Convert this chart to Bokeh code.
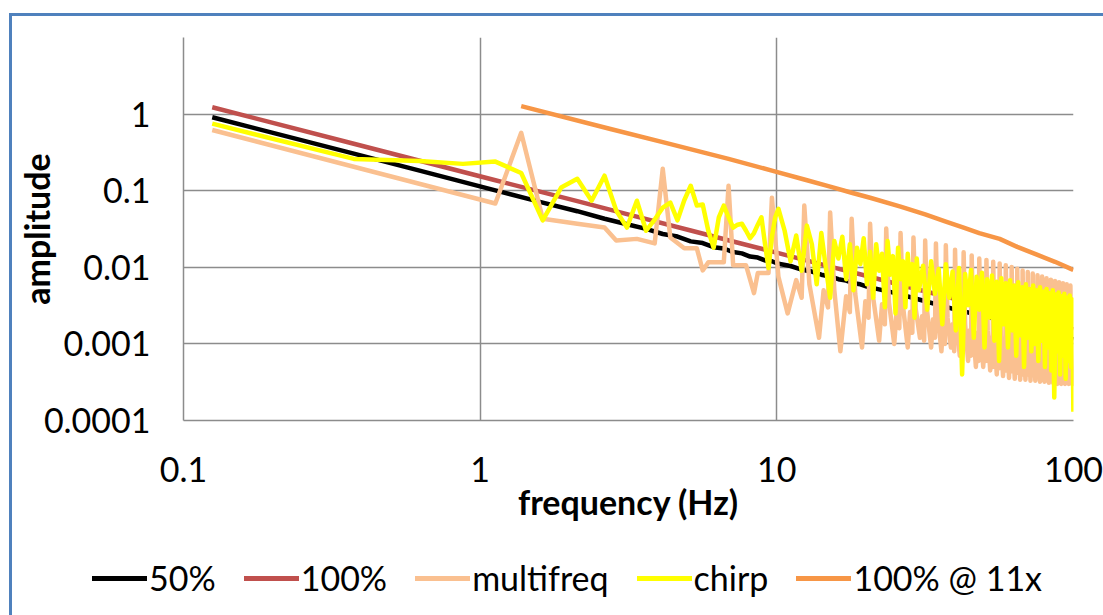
from bokeh.plotting import figure
from bokeh.layouts import column
from bokeh.models import Range1d, FixedTicker, CustomJSTickFormatter, Div
from bokeh.embed import file_html
from bokeh.resources import INLINE

# ---------------- data ----------------
x_ticks = [0.1, 1, 10, 100]
y_ticks = [0.0001, 0.001, 0.01, 0.1, 1]

half_f = [0.125, 0.375, 0.625, 1.125, 1.625, 2.125, 2.625, 3.125, 3.625, 4.125,
          4.625, 5.125, 5.625, 6.125, 6.625, 7.125, 7.625, 8.125, 8.625, 9.125,
          9.625, 10.125, 11.125, 12.125, 13.125, 14.125, 15.125, 16.125, 17.125,
          18.125, 19.125, 20.125, 25.125, 30.125, 40.125, 50.125, 60.125, 70.125,
          80.125, 90.125, 99.875]
half_v = [0.91, 0.305, 0.183, 0.101, 0.070, 0.054, 0.043, 0.0365, 0.0318, 0.0272,
          0.0252, 0.0218, 0.0207, 0.0183, 0.0176, 0.0158, 0.0152, 0.0138, 0.0134, 0.0123,
          0.0120, 0.0111, 0.0104, 0.0093, 0.0088, 0.0080, 0.0076, 0.0070, 0.0067,
          0.0062, 0.0060, 0.0056, 0.0046, 0.0038, 0.0028, 0.0023, 0.0019, 0.0016,
          0.0014, 0.00127, 0.00114]

full_f = [0.125, 0.375, 1.125, 2.125, 3.125, 5.125, 7.125, 10.125, 15.125, 20.125,
          30.125, 50.125, 70.125, 99.875]
full_v = [1.23, 0.41, 0.137, 0.073, 0.0495, 0.0302, 0.0217, 0.0153, 0.0102, 0.0077,
          0.0051, 0.0031, 0.0022, 0.00155]

multi_f = [0.125, 1.125, 1.375, 1.625, 2.125, 2.625, 2.875, 3.375, 3.875, 4.125,
           4.375, 4.875, 5.375, 5.625, 5.875, 6.625, 6.875, 7.125, 7.875, 8.375,
           8.625, 9.375, 9.625,
           10.125, 10.875, 11.625, 12.125, 12.375,
           12.875, 13.875, 14.375, 14.875, 15.125,
           15.625, 16.375, 17.125, 17.625, 17.875,
           18.375, 19.375, 19.875, 20.375, 20.625,
           21.125, 22.125, 22.625, 23.125, 23.375,
           23.875, 24.875, 25.375, 25.875, 26.125,
           26.625, 27.625, 28.125, 28.625, 28.875,
           29.375, 30.375, 30.875, 31.375, 31.625,
           32.125, 33.125, 33.625, 34.125, 34.375,
           34.875, 35.875, 36.375, 36.875, 37.125,
           37.625, 38.625, 39.125, 39.625, 39.875,
           40.375, 41.375, 41.875, 42.375, 42.625,
           43.125, 44.125, 44.625, 45.125, 45.375,
           45.875, 46.875, 47.375, 47.875, 48.125,
           48.625, 49.625, 50.125, 50.625, 50.875,
           51.375, 52.375, 52.875, 53.375, 53.625,
           54.125, 55.125, 55.625, 56.125, 56.375,
           56.875, 57.875, 58.375, 58.875, 59.125,
           59.625, 60.625, 61.125, 61.625, 61.875,
           62.375, 63.375, 63.875, 64.375, 64.625,
           65.125, 66.125, 66.625, 67.125, 67.375,
           67.875, 68.875, 69.375, 69.875, 70.125,
           70.625, 71.625, 72.125, 72.625, 72.875,
           73.375, 74.375, 74.875, 75.375, 75.625,
           76.125, 77.125, 77.625, 78.125, 78.375,
           78.875, 79.875, 80.375, 80.875, 81.125,
           81.625, 82.625, 83.125, 83.625, 83.875,
           84.375, 85.375, 85.875, 86.375, 86.625,
           87.125, 88.125, 88.625, 89.125, 89.375,
           89.875, 90.875, 91.375, 91.875, 92.125,
           92.625, 93.625, 94.125, 94.625, 94.875,
           95.375, 96.375, 96.875, 97.375, 97.625,
           98.125, 99.125, 99.875]
multi_v = [0.62, 0.068, 0.57, 0.043, 0.037, 0.033, 0.0224, 0.0235, 0.0205, 0.193,
           0.0245, 0.0177, 0.0177, 0.0091, 0.0116, 0.0116, 0.116, 0.0106, 0.0106, 0.0046,
           0.0084, 0.0084, 0.081,
           0.0075, 0.0025, 0.0068, 0.0040, 0.064,
           0.0060, 0.0012, 0.0050, 0.0030, 0.052,
           0.0050, 0.0008, 0.0042, 0.0026, 0.043,
           0.0045, 0.0009, 0.0036, 0.0022, 0.037,
           0.0040, 0.0011, 0.0033, 0.0018, 0.032,
           0.0035, 0.0010, 0.0029, 0.0016, 0.028,
           0.0031, 0.0009, 0.0026, 0.0014, 0.0245,
           0.0029, 0.0012, 0.0023, 0.0011, 0.0224,
           0.0026, 0.0009, 0.0021, 0.0012, 0.0205,
           0.0024, 0.0008, 0.0019, 0.0010, 0.0194,
           0.0022, 0.0009, 0.0018, 0.0008, 0.017,
           0.0020, 0.0007, 0.0016, 0.0009, 0.0157,
           0.0018, 0.0006, 0.0015, 0.0007, 0.0143,
           0.0017, 0.0005, 0.0014, 0.0006, 0.013,
           0.0016, 0.0005, 0.0013, 0.0006, 0.0125,
           0.0015, 0.00045, 0.0012, 0.0005, 0.0118,
           0.0014, 0.0004, 0.0011, 0.00048, 0.0112,
           0.0013, 0.00038, 0.0010, 0.00045, 0.0106,
           0.0013, 0.00036, 0.00095, 0.00044, 0.0101,
           0.0012, 0.00035, 0.0009, 0.00042, 0.0096,
           0.0011, 0.00034, 0.00088, 0.0004, 0.0091,
           0.0011, 0.00034, 0.00085, 0.0004, 0.0087,
           0.00105, 0.00033, 0.00082, 0.00039, 0.0083,
           0.0010, 0.00033, 0.0008, 0.00038, 0.0079,
           0.00098, 0.00032, 0.00078, 0.00037, 0.0076,
           0.00095, 0.00032, 0.00075, 0.00036, 0.0072,
           0.00092, 0.00031, 0.00072, 0.00035, 0.0069,
           0.0009, 0.00031, 0.0007, 0.00035, 0.0066,
           0.00088, 0.0003, 0.00068, 0.00034, 0.0064,
           0.00086, 0.0003, 0.00066, 0.00034, 0.0062,
           0.00084, 0.0003, 0.00065, 0.00033, 0.006,
           0.00082, 0.0003, 0.00063, 0.00033, 0.0058,
           0.0008, 0.0003, 0.0005]

chirp_f = [0.125, 0.375, 0.625, 0.875, 1.125, 1.375, 1.625, 1.875, 2.125, 2.375,
           2.625, 2.875, 3.125, 3.375, 3.625, 3.875, 4.125, 4.375, 4.625, 4.875,
           5.125, 5.375, 5.625, 5.875, 6.125, 6.375, 6.625, 6.875, 7.125, 7.375,
           7.625, 7.875, 8.125, 8.375, 8.625, 8.875, 9.125, 9.375, 9.625, 9.875,
           10.125, 10.625, 11.125, 11.625, 12.125, 12.625, 13.125, 13.625, 14.125,
           14.625, 15.125, 15.625, 16.125, 16.625, 17.125, 17.625, 18.125, 18.625,
           19.125, 19.625, 20.125, 20.625, 21.125, 21.625, 22.125, 22.625, 23.125,
           23.625, 24.125, 24.625, 25.125, 25.625, 26.125, 26.625, 27.125, 27.625,
           28.125, 28.625, 29.125, 29.625,
           30.125, 31.125, 32.125, 33.125, 34.125, 35.125, 36.125, 37.125, 38.125,
           39.125, 40.125, 41.125, 42.125, 43.125, 44.125, 45.125, 46.125, 47.125,
           48.125, 49.125, 50.125, 51.125, 52.125, 53.125, 54.125, 55.125, 56.125,
           57.125, 58.125, 59.125, 60.125, 61.125, 62.125, 63.125, 64.125, 65.125,
           66.125, 67.125, 68.125, 69.125, 70.125, 71.125, 72.125, 73.125, 74.125,
           75.125, 76.125, 77.125, 78.125, 79.125, 80.125, 81.125, 82.125, 83.125,
           84.125, 85.125, 86.125, 87.125, 88.125, 89.125, 90.125, 91.125, 92.125,
           93.125, 94.125, 95.125, 96.125, 97.125, 98.125, 99.125, 99.875]
chirp_v = [0.75, 0.26, 0.245, 0.224, 0.24, 0.17, 0.041, 0.11, 0.143, 0.074,
           0.157, 0.055, 0.033, 0.074, 0.030, 0.042, 0.06, 0.07, 0.041, 0.075,
           0.116, 0.064, 0.066, 0.03, 0.018, 0.045, 0.064, 0.045, 0.033, 0.036,
           0.037, 0.03, 0.024, 0.028, 0.036, 0.045, 0.02, 0.0098, 0.025, 0.045,
           0.058, 0.03, 0.012, 0.026, 0.009, 0.035, 0.02, 0.006, 0.028,
           0.01, 0.004, 0.022, 0.013, 0.025, 0.007, 0.02, 0.005, 0.018,
           0.011, 0.024, 0.006, 0.016, 0.004, 0.02, 0.009, 0.015, 0.003,
           0.022, 0.008, 0.014, 0.0025, 0.018, 0.007, 0.012, 0.003, 0.015,
           0.006, 0.011, 0.0022, 0.013,
           0.005, 0.0105, 0.0028, 0.012, 0.0045, 0.0095, 0.0018, 0.011, 0.004,
           0.0088, 0.0015, 0.0098, 0.0004, 0.0082, 0.0032, 0.0092, 0.0012, 0.0075,
           0.0028, 0.0085, 0.0009, 0.007, 0.0022, 0.0078, 0.0011, 0.0065, 0.0006,
           0.0072, 0.0018, 0.0062, 0.0009, 0.0068, 0.0015, 0.0058, 0.0007, 0.0064,
           0.0013, 0.0055, 0.0005, 0.006, 0.0012, 0.0052, 0.0008, 0.0058, 0.001,
           0.005, 0.0006, 0.0055, 0.0011, 0.0048, 0.0005, 0.0052, 0.0009, 0.0046,
           0.00045, 0.005, 0.0002, 0.0044, 0.0008, 0.0047, 0.0004, 0.0042, 0.0007,
           0.0045, 0.00035, 0.004, 0.0006, 0.0043, 0.0005, 0.0038, 0.00013]

x11_f = [1.375, 2.75, 4.125, 6.875, 9.625, 12.375, 15.125, 17.875, 20.625, 26.125,
         31.625, 37.125, 42.625, 48.125, 56.375, 64.625, 75.625, 86.625, 97.625, 99.875]
x11_v = [1.27, 0.64, 0.43, 0.26, 0.183, 0.14, 0.113, 0.094, 0.081, 0.062,
         0.049, 0.0395, 0.033, 0.028, 0.0235, 0.0185, 0.0145, 0.0118, 0.0096, 0.0092]

series_names = ["50%", "100%", "multifreq", "chirp", "100% @ 11x"]
series_colors = ["#000000", "#C0504D", "#FAC090", "#FFFF00", "#F79646"]

# ---------------- figure ----------------
FONT = "Lato"
GRID = "#8c8c8c"
BLUE = "#4F81BD"

OFF_X, OFF_Y = 12, 16          # page offset of the content (inside blue border)
W = 1103 - OFF_X
MAIN_H = 540 - OFF_Y
LEG_H = 615 - 540

p = figure(width=W, height=MAIN_H,
           x_axis_type="log", y_axis_type="log",
           x_range=Range1d(0.1, 100), y_range=Range1d(0.0001, 10),
           output_backend="svg", toolbar_location=None,
           min_border_left=183 - OFF_X, min_border_right=30,
           min_border_top=37 - OFF_Y, min_border_bottom=MAIN_H - (420 - OFF_Y))
p.outline_line_color = None
p.background_fill_color = "white"
p.border_fill_color = "white"

data = [(half_f, half_v), (full_f, full_v), (multi_f, multi_v),
        (chirp_f, chirp_v), (x11_f, x11_v)]
for (fx, fy), c in zip(data, series_colors):
    p.line(fx, fy, line_color=c, line_width=4.5, line_join="round")

fmt = CustomJSTickFormatter(code="return tick.toString();")
p.xaxis.ticker = FixedTicker(ticks=x_ticks, minor_ticks=[])
p.yaxis.ticker = FixedTicker(ticks=y_ticks, minor_ticks=[])
p.xgrid.ticker = FixedTicker(ticks=x_ticks, minor_ticks=[])
p.ygrid.ticker = FixedTicker(ticks=y_ticks, minor_ticks=[])
p.xaxis.formatter = fmt
p.yaxis.formatter = fmt

for ax in (p.xaxis, p.yaxis):
    ax.major_tick_line_color = None
    ax.minor_tick_line_color = None
    ax.axis_line_color = GRID
    ax.axis_line_width = 1.5
    ax.major_label_text_font = FONT
    ax.major_label_text_font_size = "34px"
    ax.major_label_text_color = "#000000"
    ax.axis_label_text_font = FONT
    ax.axis_label_text_font_size = "34px"
    ax.axis_label_text_font_style = "bold"
    ax.axis_label_text_color = "#000000"

p.xaxis.axis_label = "frequency (Hz)"
p.yaxis.axis_label = "amplitude"
p.xaxis.major_label_standoff = 30
p.yaxis.major_label_standoff = 27
p.xaxis.axis_label_standoff = -4
p.yaxis.axis_label_standoff = -16

p.xgrid.grid_line_color = GRID
p.ygrid.grid_line_color = GRID
p.xgrid.grid_line_width = 1.5
p.ygrid.grid_line_width = 1.5

# ---------------- legend strip (HTML text + colour swatches) ----------------
parts = []
for n, c in zip(series_names, series_colors):
    parts.append(
        '<span style="display:inline-block;width:55px;height:5px;'
        'background:%s;margin-right:2px;position:relative;top:1px;"></span>'
        '<span style="margin-right:28px;">%s</span>' % (c, n))
legend_html = ('<div style="padding-left:80px;padding-top:17px;font-family:Lato;'
               'font-size:34px;line-height:41px;color:#000;white-space:nowrap;'
               'display:flex;align-items:center;">' + "".join(parts) + '</div>')
legend_div = Div(text=legend_html, width=W, height=LEG_H, margin=0)

page = column(p, legend_div, spacing=0)
page.styles = {"margin-left": "9px", "margin-top": "13px",
               "border-left": "3px solid " + BLUE,
               "border-top": "3px solid " + BLUE}

open("out.html", "w").write(file_html(page, INLINE))
